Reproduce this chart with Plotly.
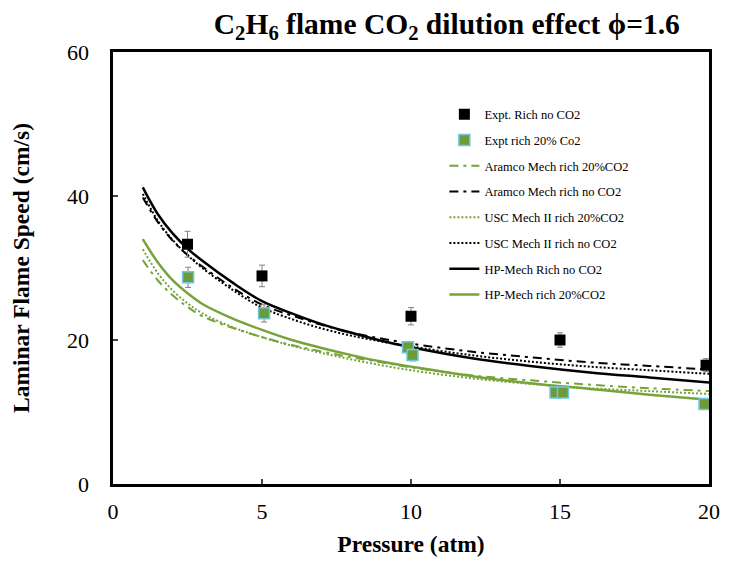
import plotly.graph_objects as go

# pressure grid of the model curves (atm)
p_model = [1, 1.5, 2, 2.5, 3, 4, 5, 6, 7, 8, 9, 10, 12, 14, 16, 18, 20]

hp_no_co2 = [41.2, 37.5, 34.8, 32.7, 31.0, 28.0, 25.4, 23.7, 22.2, 21.0, 19.9, 19.0, 17.5, 16.4, 15.5, 14.8, 14.1]
aramco_no_co2 = [39.8, 36.4, 33.8, 31.8, 30.2, 27.3, 24.9, 23.4, 22.1, 21.0, 20.2, 19.5, 18.4, 17.6, 16.9, 16.4, 15.9]
usc_no_co2 = [40.3, 36.6, 33.9, 31.8, 30.0, 27.0, 24.5, 22.9, 21.6, 20.6, 19.8, 19.1, 17.9, 17.0, 16.3, 15.8, 15.3]
hp_co2 = [34.0, 30.8, 28.3, 26.5, 25.0, 23.0, 21.4, 20.0, 18.9, 17.9, 17.0, 16.3, 15.0, 14.0, 13.2, 12.4, 11.7]
usc_co2 = [32.6, 29.3, 26.9, 25.1, 23.7, 21.8, 20.4, 19.2, 18.2, 17.3, 16.5, 15.8, 14.7, 13.9, 13.3, 12.9, 12.5]
aramco_co2 = [31.1, 28.3, 26.2, 24.6, 23.3, 21.7, 20.4, 19.3, 18.4, 17.6, 16.9, 16.2, 15.1, 14.4, 13.8, 13.3, 12.9]

# experiments
expt_p_no_co2 = [2.5, 5.0, 10.0, 15.0, 19.9]
expt_s_no_co2 = [33.3, 28.9, 23.3, 20.0, 16.5]
expt_err_no_co2 = [1.8, 1.5, 1.2, 1.0, 0.9]

expt_p_co2 = [2.52, 5.07, 9.9, 10.05, 14.85, 15.1, 19.85]
expt_s_co2 = [28.7, 23.7, 19.0, 17.9, 12.7, 12.7, 11.1]
expt_err_co2 = [1.4, 1.2, 0.8, 0.8, 0.5, 0.5, 0.5]

green = "#77a33b"
serif = "Liberation Serif"

fig = go.Figure()

lines = [
    ("Aramco Mech rich 20%CO2", aramco_co2, green, "9px,5px,3px,5px", 2, 3),
    ("Aramco Mech rich no CO2", aramco_no_co2, "black", "9px,5px,3px,5px", 2, 4),
    ("USC Mech II rich 20%CO2", usc_co2, green, "2px,2px", 2, 5),
    ("USC Mech II rich no CO2", usc_no_co2, "black", "2px,2px", 2, 6),
    ("HP-Mech Rich no CO2", hp_no_co2, "black", "solid", 2.5, 7),
    ("HP-Mech rich 20%CO2", hp_co2, green, "solid", 2.5, 8),
]
for name, y, color, dash, width, rank in lines:
    fig.add_trace(go.Scatter(
        x=p_model, y=y, name=name, mode="lines",
        line=dict(color=color, dash=dash, width=width, shape="spline"),
        legendgroup=name, legendrank=rank,
    ))

fig.add_trace(go.Scatter(
    x=expt_p_no_co2, y=expt_s_no_co2, name="Expt. Rich no CO2", mode="markers",
    marker=dict(symbol="square", size=11, color="black"),
    error_y=dict(type="data", array=expt_err_no_co2, color="#808080", thickness=1, width=3),
    legendgroup="a", legendrank=1,
))
fig.add_trace(go.Scatter(
    x=expt_p_co2, y=expt_s_co2, name="Expt rich 20% Co2", mode="markers",
    marker=dict(symbol="square", size=11, color="#6f9a3a",
                line=dict(color="#6cc8e0", width=1.5)),
    error_y=dict(type="data", array=expt_err_co2, color="#808080", thickness=1, width=3),
    legendgroup="b", legendrank=2,
))

fig.update_layout(
    width=740, height=561,
    margin=dict(l=105, r=39, t=44, b=85),
    plot_bgcolor="white", paper_bgcolor="white",
    font=dict(family=serif, color="black"),
    title=dict(
        text="<b>C<sub>2</sub>H<sub>6</sub> flame CO<sub>2</sub> dilution effect \u03d5=1.6</b>",
        font=dict(size=29.5, family=serif), x=0.593, xanchor="center", y=0.972, yanchor="middle",
    ),
    legend=dict(
        x=0.556, y=0.89, xanchor="left", yanchor="top",
        font=dict(size=12.5, family=serif), tracegroupgap=6.5,
        bgcolor="rgba(0,0,0,0)",
    ),
    showlegend=True,
)
fig.update_xaxes(
    range=[0, 20], dtick=5, ticks="inside", ticklen=5, tickwidth=2, automargin=False,
    showline=True, linewidth=3, linecolor="black", mirror=True, showgrid=False, zeroline=False,
    tickfont=dict(size=22, family=serif), ticklabelstandoff=6,
    title=dict(text="<b>Pressure (atm)</b>", font=dict(size=23.5, family=serif), standoff=13),
)
fig.update_yaxes(
    range=[0, 60], dtick=20, ticks="inside", ticklen=5, tickwidth=2, automargin=False,
    showline=True, linewidth=3, linecolor="black", mirror=True, showgrid=False, zeroline=False,
    tickfont=dict(size=22, family=serif), ticksuffix="   ",
    title=dict(text="<b>Laminar Flame Speed (cm/s)</b>", font=dict(size=23.5, family=serif), standoff=36),
)

fig.write_html("out.html")
